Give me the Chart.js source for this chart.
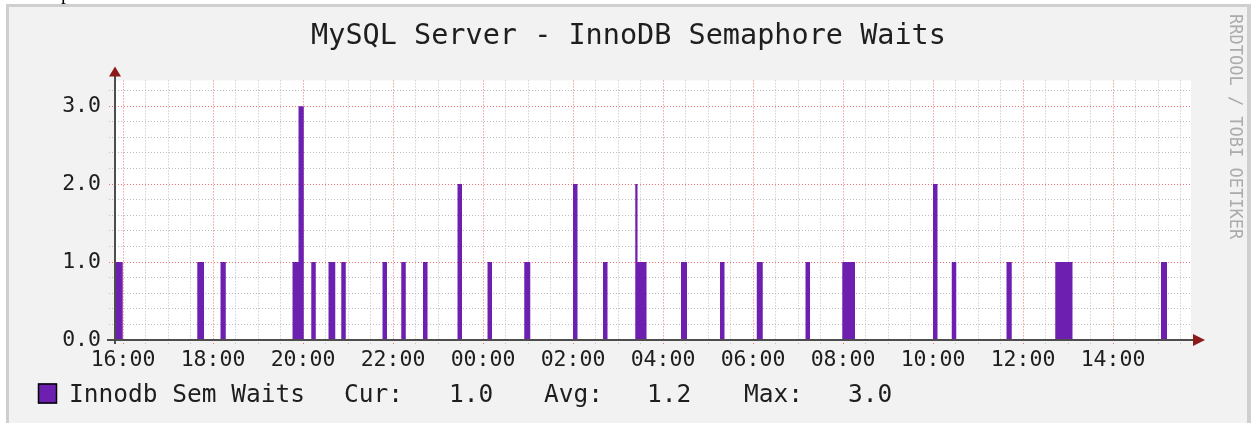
<!DOCTYPE html>
<html>
<head>
<meta charset="utf-8">
<script src="https://cdn.jsdelivr.net/npm/chart.js@4.4.0/dist/chart.umd.min.js"></script>
<style>
  html, body { margin: 0; padding: 0; background: #fff; }
  #wrap { position: relative; width: 1251px; height: 423px; }
</style>
</head>
<body>
<div id="wrap"><canvas id="semChart" width="1251" height="423"></canvas></div>
<script>
// time is in minutes counted from 16:00 on the first day
const waitStart = [-10.7, 99, 130, 226, 234, 251, 274, 291, 346, 371, 400, 446, 486, 535, 600, 640, 683, 686, 744, 796, 845, 910, 959, 1080, 1105, 1178, 1243, 1384];
const waitEnd   = [-0.4, 108, 137, 234, 241, 257, 283, 297, 352, 377, 406, 452, 492, 543, 606, 646, 686, 698, 752, 802, 853, 916, 976, 1086, 1111, 1185, 1266, 1392];
const waitValue = [1, 1, 1, 1, 3, 1, 1, 1, 1, 1, 1, 2, 1, 1, 2, 1, 2, 1, 1, 1, 1, 1, 1, 2, 1, 1, 1, 1];

const xTickLabels = ['16:00', '18:00', '20:00', '22:00', '00:00', '02:00', '04:00', '06:00', '08:00', '10:00', '12:00', '14:00'];
const yTickLabels = ['0.0', '1.0', '2.0', '3.0'];
const legendLabels = ['Cur:', 'Avg:', 'Max:'];
const legendValues = ['1.0', '1.2', '3.0'];
const seriesName = 'Innodb Sem Waits';
const chartTitle = 'MySQL Server - InnoDB Semaphore Waits';
const watermark = 'RRDTOOL / TOBI OETIKER';
const xMin = -10.7, xMax = 1424;
const yMax = 3.33;

const purple = '#6d20b0';
const majorGrid = 'rgba(238, 75, 75, 0.8)';
const minorGrid = '#bcbcbc';
const mono = 'DejaVu Sans Mono';

// build the step area from the wait periods
let points = [];
for (let i = 0; i < waitStart.length; i++) {
    points.push({ x: waitStart[i], y: waitValue[i] });
    points.push({ x: waitEnd[i], y: 0 });
}
points.push({ x: xMax, y: 0 });

const rrdFrame = {
    id: 'rrdFrame',
    beforeDraw(chart) {
        const ctx = chart.ctx;
        const a = chart.chartArea;
        ctx.save();
        ctx.fillStyle = '#fff';
        ctx.fillRect(0, 0, chart.width, chart.height);
        // bit of the page text above the image
        ctx.fillStyle = '#000';
        ctx.font = '20px "Liberation Serif"';
        ctx.fillText('p', 61, -1);
        ctx.fillStyle = '#cfcfcf';
        ctx.fillRect(6, 4, chart.width - 6, chart.height - 4);
        ctx.fillStyle = '#f2f2f2';
        ctx.fillRect(9, 7, chart.width - 13, chart.height - 7);
        ctx.fillStyle = '#fff';
        ctx.fillRect(a.left, a.top, a.right - a.left, a.bottom - a.top);
        ctx.restore();
    },
    afterDraw(chart) {
        const ctx = chart.ctx;
        const a = chart.chartArea;
        ctx.save();
        // axes
        ctx.strokeStyle = '#4d4d4d';
        ctx.lineWidth = 2;
        ctx.beginPath();
        ctx.moveTo(a.left - 8, a.bottom);
        ctx.lineTo(a.right + 6, a.bottom);
        ctx.moveTo(a.left, a.bottom + 4);
        ctx.lineTo(a.left, a.top - 8);
        ctx.stroke();
        // arrows
        ctx.fillStyle = '#8b1a1a';
        ctx.beginPath();
        ctx.moveTo(a.right + 2, a.bottom - 6);
        ctx.lineTo(a.right + 14, a.bottom);
        ctx.lineTo(a.right + 2, a.bottom + 6);
        ctx.closePath();
        ctx.fill();
        ctx.beginPath();
        ctx.moveTo(a.left - 6, a.top - 4);
        ctx.lineTo(a.left, a.top - 14);
        ctx.lineTo(a.left + 6, a.top - 4);
        ctx.closePath();
        ctx.fill();

        // legend
        ctx.fillStyle = purple;
        ctx.fillRect(38, 383.5, 19, 20);
        ctx.strokeStyle = '#000';
        ctx.lineWidth = 1.5;
        ctx.strokeRect(38.5, 384, 18, 19);
        ctx.font = '24.5px "' + mono + '"';
        ctx.fillStyle = '#1e1e1e';
        ctx.textBaseline = 'alphabetic';
        ctx.fillText(seriesName, 69, 401.5);
        const labelX = [344, 544, 744];
        const valueX = [449, 647, 848];
        legendLabels.forEach((t, i) => {
            ctx.fillText(t, labelX[i], 401.5);
            ctx.fillText(legendValues[i], valueX[i], 401.5);
        });

        // watermark
        ctx.translate(1234, 14);
        ctx.rotate(Math.PI / 2);
        ctx.font = '17px "' + mono + '"';
        ctx.fillStyle = '#ababab';
        ctx.textBaseline = 'middle';
        ctx.fillText(watermark, 0, 0);
        ctx.restore();
    }
};

function isWhole(v) {
    return Math.abs(v - Math.round(v)) < 1e-6;
}

const ctx = document.getElementById('semChart').getContext('2d');
new Chart(ctx, {
    type: 'line',
    data: {
        datasets: [{
            label: seriesName,
            data: points,
            stepped: true,
            fill: 'origin',
            backgroundColor: purple,
            borderColor: 'rgba(0,0,0,0)',
            borderWidth: 0,
            pointRadius: 0
        }]
    },
    options: {
        responsive: false,
        animation: false,
        devicePixelRatio: 1,
        layout: { padding: { left: 6, right: 0, top: 0, bottom: 0 } },
        plugins: {
            legend: { display: false },
            tooltip: { enabled: false },
            title: {
                display: true,
                text: chartTitle,
                color: '#1e1e1e',
                font: { family: mono, size: 28.5, weight: 'normal' },
                padding: { top: 19.7, bottom: 26.5 }
            }
        },
        scales: {
            x: {
                type: 'linear',
                min: xMin,
                max: xMax,
                afterFit: s => { s.height = 83; },
                grid: {
                    color: c => (c.tick && c.tick.value % 120 === 0) ? majorGrid : minorGrid,
                    tickColor: c => (c.tick && c.tick.value % 120 === 0) ? majorGrid : minorGrid,
                    lineWidth: 1,
                    drawTicks: true,
                    tickLength: 5,
                    tickBorderDash: [1, 2]
                },
                border: { display: false, dash: [1, 2] },
                ticks: {
                    stepSize: 30,
                    includeBounds: false,
                    autoSkip: false,
                    maxRotation: 0,
                    minRotation: 0,
                    padding: 3,
                    color: '#1e1e1e',
                    font: { family: mono, size: 21.5 },
                    callback: v => (v % 120 === 0) ? xTickLabels[v / 120] : ''
                }
            },
            y: {
                min: 0,
                max: yMax,
                afterFit: s => { s.width = 109; },
                grid: {
                    color: c => (c.tick && isWhole(c.tick.value)) ? majorGrid : minorGrid,
                    tickColor: c => (c.tick && isWhole(c.tick.value)) ? majorGrid : minorGrid,
                    lineWidth: 1,
                    drawTicks: true,
                    tickLength: 6,
                    tickBorderDash: [1, 2]
                },
                border: { display: false, dash: [1, 2] },
                ticks: {
                    stepSize: 0.2,
                    includeBounds: false,
                    autoSkip: false,
                    padding: 8,
                    color: '#1e1e1e',
                    font: { family: mono, size: 21.5 },
                    callback: v => isWhole(v) ? yTickLabels[Math.round(v)] : ''
                }
            },
            // empty axis that only keeps the right margin
            rightPad: {
                type: 'linear',
                position: 'right',
                afterFit: s => { s.width = 60; },
                grid: { display: false },
                border: { display: false },
                ticks: { display: false }
            }
        }
    },
    plugins: [rrdFrame]
});
</script>
</body>
</html>
